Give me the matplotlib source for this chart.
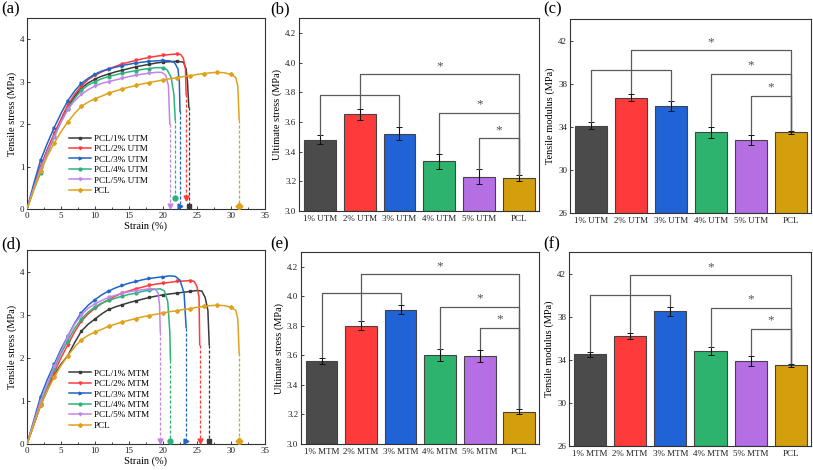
import matplotlib
matplotlib.use("Agg")
import matplotlib.pyplot as plt
from matplotlib.lines import Line2D
import numpy as np

plt.rcParams['font.family'] = ['Liberation Serif', 'DejaVu Serif']
plt.rcParams['mathtext.fontset'] = 'stix'

# ---------------- data: stress-strain curves ----------------
pcl_strain = [0, 1, 2, 3, 4, 5, 6, 7, 8, 9, 10, 11, 12, 13, 14, 15, 16, 17, 18, 19, 20, 21, 22, 23, 24, 25, 26, 27, 28, 29, 30, 30.7, 31.0, 31.1, 31.2]
pcl_stress = [0, 0.45, 0.9, 1.25, 1.55, 1.82, 2.05, 2.25, 2.42, 2.52, 2.6, 2.66, 2.73, 2.78, 2.83, 2.87, 2.91, 2.95, 2.98, 3.01, 3.04, 3.07, 3.09, 3.12, 3.14, 3.17, 3.19, 3.21, 3.22, 3.21, 3.17, 3.1, 2.9, 2.5, 2.1]

utm1_strain = [0, 1, 2, 3, 4, 5, 6, 7, 8, 9, 10, 11, 12, 13, 14, 15, 16, 17, 18, 19, 20, 21, 22, 23, 23.4, 23.6, 23.8]
utm1_stress = [0, 0.5, 1.0, 1.4, 1.75, 2.1, 2.4, 2.65, 2.85, 2.97, 3.06, 3.13, 3.18, 3.23, 3.27, 3.31, 3.35, 3.38, 3.41, 3.44, 3.46, 3.47, 3.48, 3.46, 3.3, 3.0, 2.4]
utm2_strain = [0, 1, 2, 3, 4, 5, 6, 7, 8, 9, 10, 11, 12, 13, 14, 15, 16, 17, 18, 19, 20, 21, 22, 22.6, 23.0, 23.3, 23.4]
utm2_stress = [0, 0.5, 1.0, 1.4, 1.78, 2.12, 2.45, 2.7, 2.9, 3.05, 3.15, 3.23, 3.3, 3.36, 3.42, 3.46, 3.5, 3.54, 3.57, 3.6, 3.62, 3.64, 3.65, 3.64, 3.55, 3.3, 2.7]
utm3_strain = [0, 1, 2, 3, 4, 5, 6, 7, 8, 9, 10, 11, 12, 13, 14, 15, 16, 17, 18, 19, 20, 21, 21.7, 22.2, 22.4, 22.5]
utm3_stress = [0, 0.6, 1.15, 1.55, 1.92, 2.25, 2.55, 2.78, 2.96, 3.08, 3.18, 3.25, 3.3, 3.34, 3.38, 3.41, 3.44, 3.46, 3.48, 3.49, 3.5, 3.49, 3.45, 3.3, 3.0, 2.3]
utm4_strain = [0, 1, 2, 3, 4, 5, 6, 7, 8, 9, 10, 11, 12, 13, 14, 15, 16, 17, 18, 19, 20, 20.6, 21.2, 21.6, 21.8]
utm4_stress = [0, 0.45, 0.85, 1.3, 1.7, 2.05, 2.35, 2.6, 2.8, 2.92, 3.0, 3.07, 3.12, 3.16, 3.2, 3.23, 3.26, 3.29, 3.31, 3.33, 3.33, 3.28, 3.1, 2.7, 2.1]
utm5_strain = [0, 1, 2, 3, 4, 5, 6, 7, 8, 9, 10, 11, 12, 13, 14, 15, 16, 17, 18, 19, 19.8, 20.4, 20.8, 21.0]
utm5_stress = [0, 0.5, 0.95, 1.35, 1.7, 2.05, 2.35, 2.55, 2.7, 2.81, 2.9, 2.96, 3.0, 3.04, 3.08, 3.12, 3.15, 3.18, 3.2, 3.22, 3.22, 3.15, 2.9, 2.0]

mtm1_strain = [0, 1, 2, 3, 4, 5, 6, 7, 8, 9, 10, 11, 12, 13, 14, 15, 16, 17, 18, 19, 20, 21, 22, 23, 24, 25, 25.7, 26.2, 26.6, 26.8]
mtm1_stress = [0, 0.45, 0.9, 1.25, 1.6, 1.85, 2.05, 2.35, 2.62, 2.78, 2.9, 3.02, 3.12, 3.18, 3.23, 3.28, 3.32, 3.36, 3.4, 3.43, 3.46, 3.48, 3.5, 3.52, 3.54, 3.56, 3.55, 3.4, 3.1, 2.3]
mtm2_strain = [0, 1, 2, 3, 4, 5, 6, 7, 8, 9, 10, 11, 12, 13, 14, 15, 16, 17, 18, 19, 20, 21, 22, 23, 24, 24.6, 25.0, 25.3, 25.4]
mtm2_stress = [0, 0.45, 0.9, 1.3, 1.65, 2.0, 2.3, 2.6, 2.85, 3.02, 3.15, 3.26, 3.35, 3.43, 3.5, 3.55, 3.6, 3.64, 3.68, 3.71, 3.73, 3.75, 3.77, 3.78, 3.79, 3.77, 3.65, 3.4, 2.3]
mtm3_strain = [0, 1, 2, 3, 4, 5, 6, 7, 8, 9, 10, 11, 12, 13, 14, 15, 16, 17, 18, 19, 20, 21, 21.8, 22.5, 23.1, 23.4]
mtm3_stress = [0, 0.55, 1.1, 1.5, 1.85, 2.2, 2.5, 2.8, 3.05, 3.22, 3.35, 3.46, 3.55, 3.62, 3.68, 3.73, 3.77, 3.81, 3.84, 3.86, 3.88, 3.9, 3.89, 3.8, 3.5, 2.7]
mtm4_strain = [0, 1, 2, 3, 4, 5, 6, 7, 8, 9, 10, 11, 12, 13, 14, 15, 16, 17, 18, 19, 19.6, 20.2, 20.7, 21.0, 21.1]
mtm4_stress = [0, 0.5, 0.95, 1.35, 1.75, 2.1, 2.4, 2.68, 2.9, 3.06, 3.18, 3.27, 3.33, 3.38, 3.43, 3.47, 3.5, 3.54, 3.57, 3.59, 3.6, 3.55, 3.3, 2.6, 1.95]
mtm5_strain = [0, 1, 2, 3, 4, 5, 6, 7, 8, 9, 10, 11, 12, 13, 14, 15, 16, 17, 18, 18.8, 19.3, 19.5, 19.6]
mtm5_stress = [0, 0.5, 1.0, 1.4, 1.8, 2.15, 2.5, 2.78, 3.0, 3.15, 3.25, 3.33, 3.4, 3.45, 3.5, 3.53, 3.56, 3.58, 3.6, 3.6, 3.5, 3.2, 2.6]

utm_labels = ['PCL/1% UTM', 'PCL/2% UTM', 'PCL/3% UTM', 'PCL/4% UTM', 'PCL/5% UTM', 'PCL']
mtm_labels = ['PCL/1% MTM', 'PCL/2% MTM', 'PCL/3% MTM', 'PCL/4% MTM', 'PCL/5% MTM', 'PCL']
utm_break_y = [0.07, 0.25, 0.07, 0.25, 0.07, 0.07]
mtm_break_y = [0.07, 0.07, 0.07, 0.07, 0.07, 0.07]

# ---------------- data: bar charts ----------------
utm_cats = ['1% UTM', '2% UTM', '3% UTM', '4% UTM', '5% UTM', 'PCL']
mtm_cats = ['1% MTM', '2% MTM', '3% MTM', '4% MTM', '5% MTM', 'PCL']
utm_ult = [3.48, 3.65, 3.52, 3.335, 3.23, 3.22]
utm_ult_err = [0.03, 0.04, 0.045, 0.05, 0.05, 0.02]
utm_mod = [34.1, 36.7, 35.9, 33.5, 32.8, 33.5]
utm_mod_err = [0.3, 0.35, 0.45, 0.5, 0.45, 0.15]
mtm_ult = [3.565, 3.80, 3.91, 3.60, 3.595, 3.22]
mtm_ult_err = [0.02, 0.03, 0.03, 0.04, 0.04, 0.02]
mtm_mod = [34.5, 36.2, 38.5, 34.8, 33.9, 33.5]
mtm_mod_err = [0.2, 0.3, 0.4, 0.35, 0.45, 0.15]

# brackets: (left bar, right bar, height, star)
b_brackets = [(0, 2, 3.78, False), (1, 5, 3.92, True), (3, 5, 3.66, True), (4, 5, 3.49, True)]
c_brackets = [(0, 2, 39.3, False), (1, 5, 41.1, True), (3, 5, 38.9, True), (4, 5, 36.9, True)]
e_brackets = [(0, 2, 4.02, False), (1, 5, 4.15, True), (3, 5, 3.93, True), (4, 5, 3.785, True)]
f_brackets = [(0, 2, 40.05, False), (1, 5, 41.85, True), (3, 5, 38.85, True), (4, 5, 36.85, True)]

# ---------------- styles ----------------
line_colors = ['#3a3a3a', '#ff3b3b', '#2065c8', '#2db37a', '#c384ea', '#e0a21c']
markers = ['s', 'v', '>', 'o', 'v', 'D']
bar_colors = ['#4b4b4b', '#ff3a3a', '#1f63d6', '#2db36e', '#b56ee3', '#d49f0c']
spine_col = '#333333'

fig = plt.figure(figsize=(8.13, 4.70), dpi=100)
W, H = 813, 470


def add_ax(l, t, r, b):
    return fig.add_axes([l / W, 1 - b / H, (r - l) / W, (b - t) / H])


def style_ax(ax):
    for s in ax.spines.values():
        s.set_color(spine_col)
        s.set_linewidth(0.8)
    ax.tick_params(direction='in', length=2.5, width=0.6, labelsize=6.5, colors='#222222', pad=2)


def curve_panel(ax, series, labels, break_y):
    for i, (xs, ys) in enumerate(series):
        idx = [k for k, v in enumerate(xs) if float(v).is_integer() and int(v) % 2 == 0 and k > 0]
        ax.plot(xs, ys, color=line_colors[i], lw=1.1, marker=markers[i], ms=2.0,
                markevery=idx, label=labels[i], zorder=3)
        ax.plot([xs[-1], xs[-1]], [ys[-1], break_y[i]], color=line_colors[i], lw=0.9,
                ls=(0, (2.5, 1.5)), zorder=2)
        ax.plot([xs[-1]], [break_y[i]], marker=markers[i], color=line_colors[i], ms=3.5,
                ls='none', zorder=4)
    ax.set_xlim(0, 35)
    ax.set_ylim(0, 4.5)
    ax.set_xticks(np.arange(0, 36, 5))
    ax.set_yticks([0, 1, 2, 3, 4])
    ax.set_xticks(np.arange(2.5, 35, 5), minor=True)
    ax.tick_params(which='minor', direction='in', length=1.5, width=0.5)
    ax.set_xlabel('Strain (%)', fontsize=7.5, labelpad=1)
    ax.set_ylabel('Tensile stress (MPa)', fontsize=7.5, labelpad=2)
    style_ax(ax)
    handles = [Line2D([0], [0], color=line_colors[i], lw=1.1, marker=markers[i], ms=2.0)
               for i in range(len(labels))]
    ax.legend(handles, labels, loc='lower left', bbox_to_anchor=(0.15, 0.04), frameon=False,
              fontsize=6.6, handlelength=2.4, handletextpad=0.3, labelspacing=0.22, borderpad=0.2)


def bar_panel(ax, cats, vals, errs, brackets, ylim, yticks, ylabel, yfmt):
    x = np.arange(len(cats))
    ax.bar(x, [v - ylim[0] for v in vals], bottom=ylim[0], width=0.8, color=bar_colors,
           edgecolor='#444444', linewidth=0.8, zorder=2)
    ax.errorbar(x, vals, yerr=errs, fmt='none', ecolor='#111111', elinewidth=0.8,
                capsize=2, capthick=0.7, zorder=3)
    rng = ylim[1] - ylim[0]
    for (i, j, h, star) in brackets:
        yi = vals[i] + errs[i] + 0.004 * rng
        yj = vals[j] + errs[j] + 0.004 * rng
        ax.plot([x[i], x[i], x[j], x[j]], [yi, h, h, yj], color='#5a5a5a', lw=0.9, zorder=4)
        if star:
            ax.text((x[i] + x[j]) / 2, h + 0.012 * rng, '*', ha='center', va='bottom',
                    fontsize=9.5, color='#555555')
    ax.set_xlim(-0.52, 5.5)
    ax.set_ylim(*ylim)
    ax.set_xticks(x)
    ax.set_xticklabels(cats)
    ax.set_yticks(yticks)
    ax.set_yticklabels([yfmt.format(t) for t in yticks])
    ax.set_ylabel(ylabel, fontsize=7.5, labelpad=2)
    style_ax(ax)
    ax.tick_params(axis='x', length=0, pad=3)


ax_a = add_ax(27, 18, 265, 209)
curve_panel(ax_a, [(utm1_strain, utm1_stress), (utm2_strain, utm2_stress), (utm3_strain, utm3_stress),
                   (utm4_strain, utm4_stress), (utm5_strain, utm5_stress), (pcl_strain, pcl_stress)],
            utm_labels, utm_break_y)

ax_d = add_ax(27, 250, 265, 444)
curve_panel(ax_d, [(mtm1_strain, mtm1_stress), (mtm2_strain, mtm2_stress), (mtm3_strain, mtm3_stress),
                   (mtm4_strain, mtm4_stress), (mtm5_strain, mtm5_stress), (pcl_strain, pcl_stress)],
            mtm_labels, mtm_break_y)

ult_ticks = [3.0, 3.2, 3.4, 3.6, 3.8, 4.0, 4.2]
mod_ticks = [26, 30, 34, 38, 42]

ax_b = add_ax(299, 18, 539, 211)
bar_panel(ax_b, utm_cats, utm_ult, utm_ult_err, b_brackets, (3.0, 4.3), ult_ticks,
          'Ultimate stress (MPa)', '{:.1f}')
ax_c = add_ax(570, 19, 811, 213)
bar_panel(ax_c, utm_cats, utm_mod, utm_mod_err, c_brackets, (26, 44), mod_ticks,
          'Tensile modulus (MPa)', '{:d}')
ax_e = add_ax(301, 252, 539, 444)
bar_panel(ax_e, mtm_cats, mtm_ult, mtm_ult_err, e_brackets, (3.0, 4.3), ult_ticks,
          'Ultimate stress (MPa)', '{:.1f}')
ax_f = add_ax(569, 252, 811, 446)
bar_panel(ax_f, mtm_cats, mtm_mod, mtm_mod_err, f_brackets, (26, 44), mod_ticks,
          'Tensile modulus (MPa)', '{:d}')

for lab, (px, py) in zip(['(a)', '(b)', '(c)', '(d)', '(e)', '(f)'],
                         [(1, 1), (270, 1), (543, 1), (1, 236), (270, 236), (543, 236)]):
    fig.text(px / W, 1 - py / H, lab, fontsize=12, ha='left', va='top')

fig.savefig('out.png', dpi=100)
